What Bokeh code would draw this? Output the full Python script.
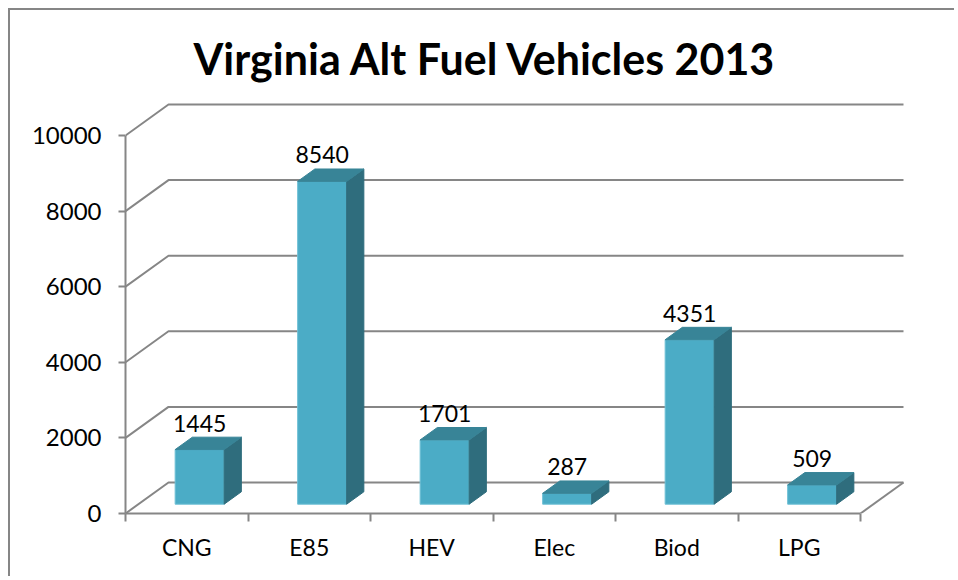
from bokeh.plotting import figure
from bokeh.models import Range1d, FixedTicker, ColumnDataSource
from bokeh.embed import file_html
from bokeh.resources import INLINE
from bokeh.core.properties import value

# ---- data ----
categories = ["CNG", "E85", "HEV", "Elec", "Biod", "LPG"]
vehicles = [1445, 8540, 1701, 287, 4351, 509]
y_ticks = [0, 2000, 4000, 6000, 8000, 10000]
title_text = "Virginia Alt Fuel Vehicles 2013"

# ---- layout / style ----
W, H = 946, 568
ML, MR, MT, MB = 115, 50, 90, 65
FRAME_W = W - ML - MR
FRAME_H = H - MT - MB
Y_MAX = y_ticks[-1]
AXIS_PX = 378.0
PX_PER_CAT = 122.5
px_y = AXIS_PX / Y_MAX
x0 = -0.5
n = len(categories)
x_right = x0 + n
x_end = x0 + FRAME_W / PX_PER_CAT
y_end = FRAME_H / px_y

DEPTH_DX, DEPTH_DY = 43.0, 31.0
ddx = DEPTH_DX / PX_PER_CAT
ddy = DEPTH_DY / px_y
F0, F1 = 0.3, 0.7
BAR_W = 0.4

GRID = "#868686"
FRONT = "#4BACC6"
SIDE = "#2F6D7D"
TOP = "#388497"
FONT = "Lato"

p = figure(width=W, height=H, x_range=Range1d(x0, x_end), y_range=Range1d(0, y_end),
           output_backend="svg", toolbar_location=None,
           min_border_left=ML, min_border_right=MR, min_border_top=MT, min_border_bottom=MB,
           background_fill_color="white", border_fill_color="white", outline_line_color=None)
p.styles = {"margin-left": "8px", "margin-top": "8px",
            "border-left": "2px solid #868686", "border-top": "2px solid #868686"}
p.xgrid.visible = False
p.ygrid.visible = False

# 3D grid lines (side wall + back wall)
gx, gy = [], []
for t in y_ticks:
    gx.append([x0, x0 + ddx, x_right + ddx])
    gy.append([t, t + ddy, t + ddy])
gx.append([x_right, x_right + ddx])
gy.append([0, ddy])
p.multi_line(gx, gy, line_color=GRID, line_width=2)

# bars
fx, fy, sx, sy, tx, ty, lx, ly, lt = [], [], [], [], [], [], [], [], []
ox0, oy0 = F0 * ddx, F0 * ddy
ox1, oy1 = F1 * ddx, F1 * ddy
for i, v in enumerate(vehicles):
    xl, xr = i - BAR_W / 2, i + BAR_W / 2
    fx.append([xl + ox0, xr + ox0, xr + ox0, xl + ox0])
    fy.append([oy0, oy0, v + oy0, v + oy0])
    sx.append([xr + ox0, xr + ox1, xr + ox1, xr + ox0])
    sy.append([oy0, oy1, v + oy1, v + oy0])
    tx.append([xl + ox0, xr + ox0, xr + ox1, xl + ox1])
    ty.append([v + oy0, v + oy0, v + oy1, v + oy1])
    lx.append(i + ox0)
    ly.append(v + oy1)
    lt.append(str(v))

p.patches(fx, fy, fill_color=FRONT, line_color="#6FC0D6", line_width=1)
p.patches(sx, sy, fill_color=SIDE, line_color=SIDE, line_width=1)
p.patches(tx, ty, fill_color=TOP, line_color=TOP, line_width=1)

src = ColumnDataSource(dict(x=lx, y=ly, t=lt))
p.text(x="x", y="y", text="t", source=src, text_align="center", text_baseline="alphabetic",
       y_offset=-14, text_font=value(FONT), text_font_size="23px", text_color="black")

# y axis
ya = p.yaxis[0]
ya.ticker = FixedTicker(ticks=y_ticks)
ya.bounds = (0, Y_MAX)
ya.axis_line_color = GRID
ya.axis_line_width = 2
ya.major_tick_line_color = GRID
ya.major_tick_line_width = 2
ya.major_tick_out = 7
ya.major_tick_in = 0
ya.minor_tick_line_color = None
ya.major_label_text_font = FONT
ya.major_label_text_font_size = "24px"
ya.major_label_text_color = "black"
ya.major_label_standoff = 17

# x axis
xa = p.xaxis[0]
xa.ticker = FixedTicker(ticks=list(range(n)), minor_ticks=[x0 + k for k in range(n + 1)])
xa.major_label_overrides = {i: c for i, c in enumerate(categories)}
xa.bounds = (x0, x_right)
xa.axis_line_color = GRID
xa.axis_line_width = 2
xa.major_tick_line_color = None
xa.major_tick_out = 0
xa.major_tick_in = 0
xa.minor_tick_line_color = GRID
xa.minor_tick_line_width = 2
xa.minor_tick_out = 8
xa.minor_tick_in = 0
xa.major_label_text_font = FONT
xa.major_label_text_font_size = "23px"
xa.major_label_text_color = "black"
xa.major_label_standoff = 11

# title
p.title.text = title_text
p.title.text_font = FONT
p.title.text_font_size = "43px"
p.title.text_font_style = "bold"
p.title.text_color = "black"
p.title.align = "left"
p.title.offset = 68
p.title.standoff = 34

open("out.html", "w").write(file_html(p, INLINE))
